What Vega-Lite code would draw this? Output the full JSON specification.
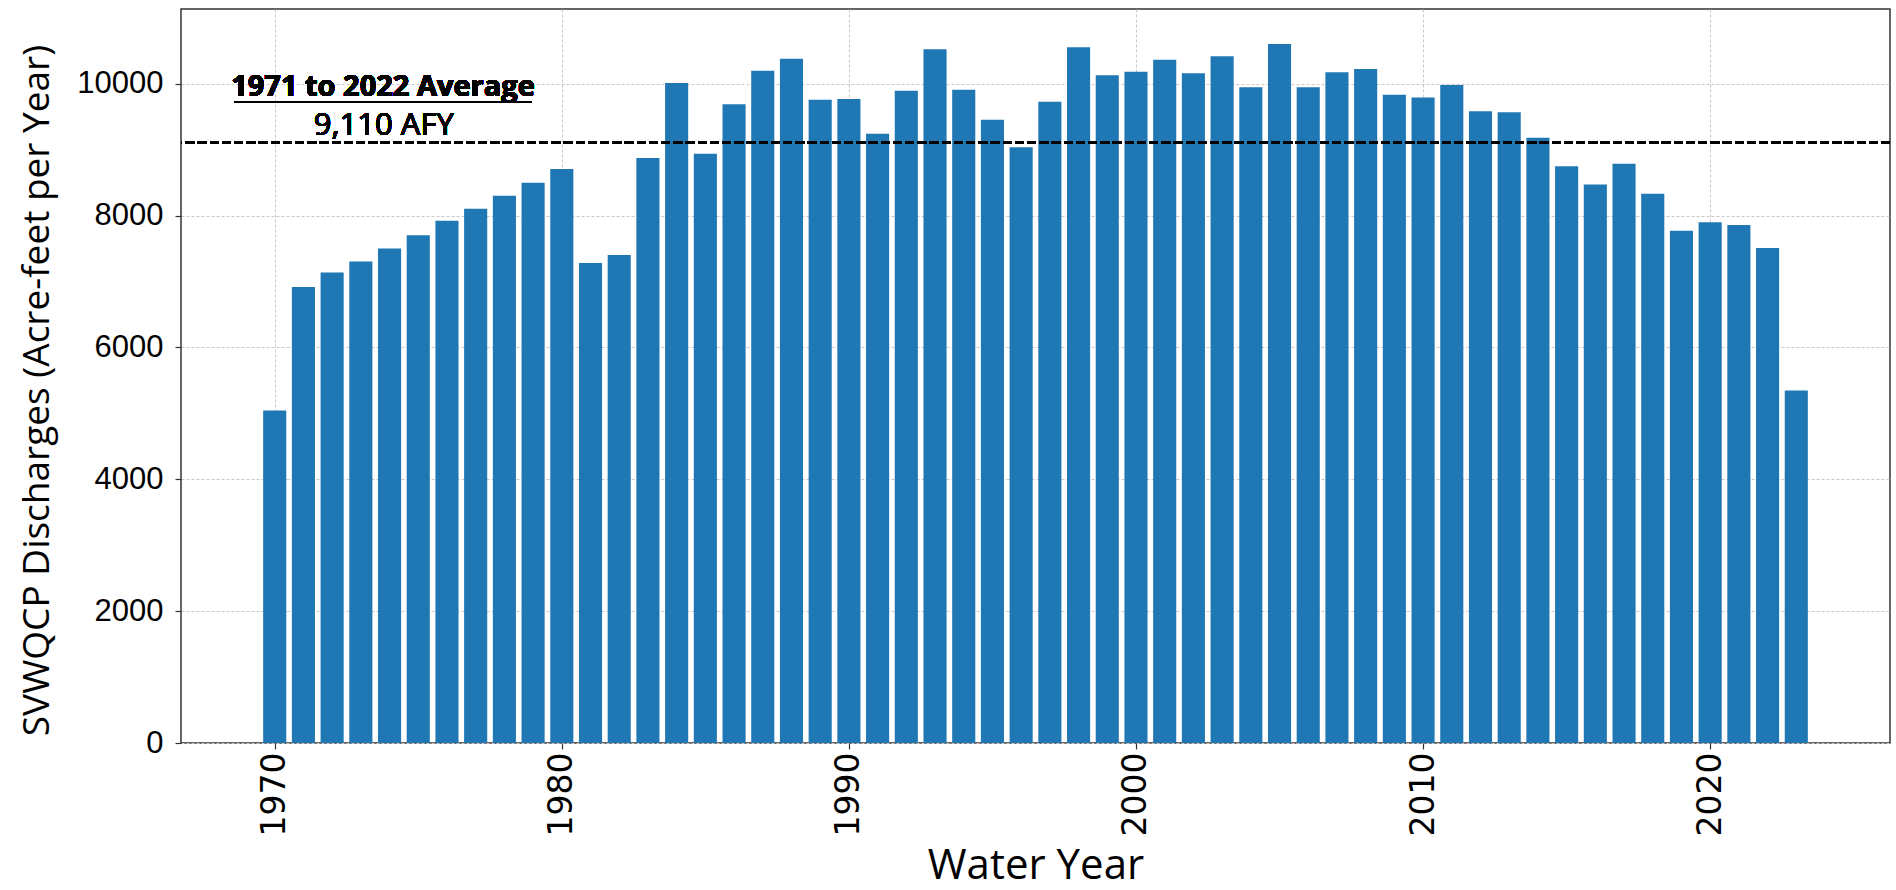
{
  "$schema": "https://vega.github.io/schema/vega-lite/v6.json",
  "width": 1709,
  "height": 734,
  "autosize": {"type": "none"},
  "padding": {"left": 181, "top": 9, "right": 6, "bottom": 147},
  "background": "white",
  "config": {
    "view": {"stroke": "#333333", "strokeWidth": 1.5},
    "axis": {
      "domain": false,
      "grid": true,
      "gridColor": "#c8c8c8",
      "gridDash": [3, 2],
      "gridWidth": 1,
      "tickColor": "#333333",
      "tickSize": 6,
      "tickWidth": 1.2,
      "labelColor": "#000000",
      "titleColor": "#000000",
      "titleFontWeight": "normal"
    }
  },
  "data": {
    "values": [
      {"year": 1970, "value": 5043},
      {"year": 1971, "value": 6915},
      {"year": 1972, "value": 7137},
      {"year": 1973, "value": 7304},
      {"year": 1974, "value": 7501},
      {"year": 1975, "value": 7699},
      {"year": 1976, "value": 7921},
      {"year": 1977, "value": 8103},
      {"year": 1978, "value": 8301},
      {"year": 1979, "value": 8498},
      {"year": 1980, "value": 8705},
      {"year": 1981, "value": 7279},
      {"year": 1982, "value": 7400},
      {"year": 1983, "value": 8872},
      {"year": 1984, "value": 10010},
      {"year": 1985, "value": 8938},
      {"year": 1986, "value": 9686},
      {"year": 1987, "value": 10197},
      {"year": 1988, "value": 10379},
      {"year": 1989, "value": 9757},
      {"year": 1990, "value": 9767},
      {"year": 1991, "value": 9241},
      {"year": 1992, "value": 9894},
      {"year": 1993, "value": 10521},
      {"year": 1994, "value": 9909},
      {"year": 1995, "value": 9454},
      {"year": 1996, "value": 9034},
      {"year": 1997, "value": 9727},
      {"year": 1998, "value": 10551},
      {"year": 1999, "value": 10126},
      {"year": 2000, "value": 10182},
      {"year": 2001, "value": 10364},
      {"year": 2002, "value": 10157},
      {"year": 2003, "value": 10415},
      {"year": 2004, "value": 9944},
      {"year": 2005, "value": 10602},
      {"year": 2006, "value": 9944},
      {"year": 2007, "value": 10172},
      {"year": 2008, "value": 10223},
      {"year": 2009, "value": 9833},
      {"year": 2010, "value": 9788},
      {"year": 2011, "value": 9980},
      {"year": 2012, "value": 9580},
      {"year": 2013, "value": 9565},
      {"year": 2014, "value": 9181},
      {"year": 2015, "value": 8746},
      {"year": 2016, "value": 8472},
      {"year": 2017, "value": 8786},
      {"year": 2018, "value": 8331},
      {"year": 2019, "value": 7769},
      {"year": 2020, "value": 7896},
      {"year": 2021, "value": 7855},
      {"year": 2022, "value": 7506},
      {"year": 2023, "value": 5347}
    ]
  },
  "layer": [
    {
      "mark": {"type": "bar", "color": "#1f77b4", "width": 23.1},
      "encoding": {
        "x": {
          "field": "year",
          "type": "quantitative",
          "scale": {"domain": [1966.91, 2026.09], "nice": false, "zero": false},
          "axis": {
            "values": [1970, 1980, 1990, 2000, 2010, 2020],
            "format": "d",
            "labelAngle": 270,
            "labelFont": "DejaVu Sans",
            "labelFontSize": 33,
            "labelPadding": 3,
            "title": "Water Year",
            "titleFont": "Open Sans",
            "titleFontSize": 42,
            "titleY": 135,
            "titleBaseline": "alphabetic"
          }
        },
        "y": {
          "field": "value",
          "type": "quantitative",
          "scale": {"domain": [0, 11132], "nice": false},
          "axis": {
            "values": [0, 2000, 4000, 6000, 8000, 10000],
            "format": "d",
            "labelFont": "Liberation Sans",
            "labelFontSize": 31,
            "labelPadding": 12,
            "title": "SVWQCP Discharges (Acre-feet per Year)",
            "titleFont": "Open Sans",
            "titleFontSize": 37,
            "titleAngle": 270,
            "titleX": -133,
            "titleY": 381,
            "titleAlign": "center",
            "titleBaseline": "alphabetic"
          }
        }
      }
    },
    {
      "mark": {"type": "rule", "color": "#000000", "strokeWidth": 2.5, "strokeDash": [8.5, 3.7]},
      "encoding": {"y": {"datum": 9110}}
    },
    {
      "mark": {"type": "text", "text": "1971 to 2022 Average", "font": "Open Sans", "fontSize": 29, "fontWeight": "bold", "align": "center", "baseline": "alphabetic", "color": "#000000"},
      "encoding": {"x": {"datum": 1973.77}, "y": {"datum": 9810}}
    },
    {
      "mark": {"type": "rule", "color": "#000000", "strokeWidth": 2},
      "encoding": {"x": {"datum": 1968.61}, "x2": {"datum": 1978.93}, "y": {"datum": 9720}}
    },
    {
      "mark": {"type": "text", "text": "9,110 AFY", "font": "Open Sans", "fontSize": 31, "align": "center", "baseline": "alphabetic", "color": "#000000"},
      "encoding": {"x": {"datum": 1973.8}, "y": {"datum": 9220}}
    }
  ]
}
